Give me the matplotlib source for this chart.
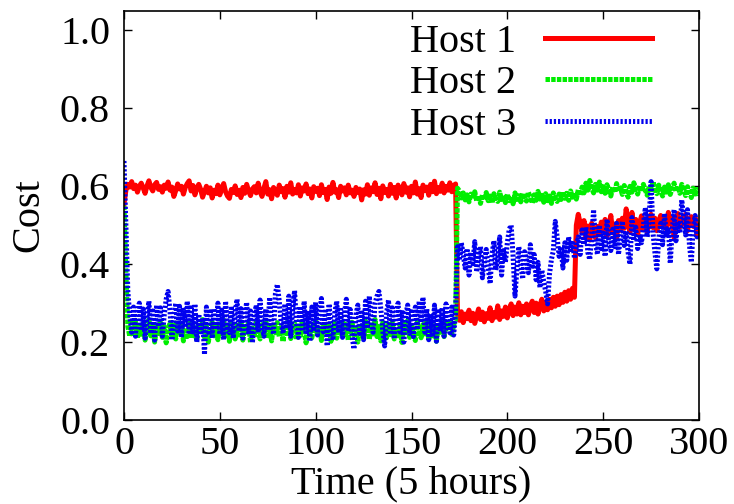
import numpy as np
import matplotlib
matplotlib.use("Agg")
import matplotlib.pyplot as plt

plt.rcParams['font.family'] = ['Liberation Serif', 'DejaVu Serif']
plt.rcParams['lines.scale_dashes'] = False

time = list(range(301))

host1 = [
    0.555, 0.590, 0.605, 0.598, 0.612, 0.594, 0.603, 0.585, 0.600, 0.608,
    0.596, 0.582, 0.601, 0.614, 0.597, 0.588, 0.604, 0.610, 0.592, 0.599,
    0.585, 0.603, 0.595, 0.611, 0.590, 0.598, 0.574, 0.589, 0.606, 0.593,
    0.600, 0.580, 0.597, 0.607, 0.614, 0.588, 0.602, 0.578, 0.595, 0.605,
    0.592, 0.572, 0.586, 0.600, 0.583, 0.596, 0.570, 0.590, 0.581, 0.603,
    0.578, 0.595, 0.607, 0.586, 0.575, 0.569, 0.592, 0.584, 0.601, 0.579,
    0.590, 0.571, 0.597, 0.582, 0.605, 0.588, 0.576, 0.593, 0.599, 0.583,
    0.608, 0.586, 0.574, 0.595, 0.612, 0.580, 0.591, 0.568, 0.597, 0.589,
    0.577, 0.603, 0.586, 0.594, 0.572, 0.600, 0.585, 0.609, 0.580, 0.592,
    0.583, 0.604, 0.575, 0.596, 0.588, 0.606, 0.581, 0.593, 0.570, 0.599,
    0.587, 0.595, 0.576, 0.604, 0.584, 0.592, 0.566, 0.598, 0.582, 0.610,
    0.585, 0.591, 0.571, 0.600, 0.588, 0.596, 0.578, 0.603, 0.583, 0.590,
    0.574, 0.597, 0.584, 0.593, 0.565, 0.591, 0.580, 0.604, 0.577, 0.596,
    0.586, 0.609, 0.579, 0.595, 0.568, 0.601, 0.584, 0.592, 0.575, 0.605,
    0.582, 0.597, 0.570, 0.603, 0.588, 0.578, 0.607, 0.585, 0.596, 0.573,
    0.600, 0.583, 0.611, 0.580, 0.594, 0.571, 0.603, 0.589, 0.598, 0.577,
    0.605, 0.586, 0.613, 0.581, 0.597, 0.587, 0.608, 0.583, 0.600, 0.590,
    0.609, 0.586, 0.602, 0.606, 0.270, 0.256, 0.278, 0.250, 0.272, 0.260,
    0.282, 0.255, 0.274, 0.248, 0.268, 0.285, 0.258, 0.277, 0.252, 0.273,
    0.261, 0.288, 0.255, 0.276, 0.264, 0.293, 0.258, 0.280, 0.266, 0.290,
    0.262, 0.284, 0.298, 0.268, 0.290, 0.272, 0.301, 0.270, 0.292, 0.276,
    0.298, 0.270, 0.292, 0.305, 0.276, 0.300, 0.272, 0.294, 0.310, 0.280,
    0.302, 0.283, 0.310, 0.288, 0.315, 0.292, 0.318, 0.296, 0.322, 0.302,
    0.328, 0.305, 0.332, 0.310, 0.338, 0.315, 0.500, 0.528, 0.505, 0.482,
    0.512, 0.470, 0.498, 0.462, 0.505, 0.480, 0.468, 0.497, 0.476, 0.508,
    0.485, 0.515, 0.472, 0.500, 0.525, 0.480, 0.503, 0.468, 0.512, 0.487,
    0.518, 0.492, 0.542, 0.505, 0.482, 0.533, 0.496, 0.515, 0.476, 0.505,
    0.524, 0.490, 0.512, 0.484, 0.507, 0.528, 0.494, 0.518, 0.486, 0.510,
    0.525, 0.498, 0.515, 0.490, 0.533, 0.503, 0.520, 0.468, 0.512, 0.530,
    0.495, 0.517, 0.503, 0.528, 0.486, 0.514, 0.522, 0.497, 0.520, 0.475,
    0.500,
]

host2 = [
    0.550, 0.380, 0.240, 0.215, 0.250, 0.222, 0.256, 0.210, 0.242, 0.220,
    0.252, 0.205, 0.235, 0.258, 0.216, 0.245, 0.200, 0.238, 0.222, 0.254,
    0.212, 0.240, 0.198, 0.232, 0.250, 0.218, 0.244, 0.208, 0.256, 0.224,
    0.246, 0.203, 0.236, 0.214, 0.252, 0.210, 0.242, 0.226, 0.204, 0.249,
    0.222, 0.258, 0.212, 0.240, 0.200, 0.234, 0.251, 0.216, 0.244, 0.206,
    0.247, 0.222, 0.257, 0.211, 0.238, 0.202, 0.248, 0.228, 0.208, 0.243,
    0.218, 0.254, 0.205, 0.240, 0.226, 0.250, 0.199, 0.236, 0.213, 0.252,
    0.230, 0.208, 0.245, 0.218, 0.256, 0.210, 0.241, 0.203, 0.248, 0.224,
    0.250, 0.214, 0.237, 0.201, 0.244, 0.222, 0.258, 0.209, 0.235, 0.248,
    0.206, 0.241, 0.217, 0.253, 0.228, 0.198, 0.246, 0.222, 0.211, 0.240,
    0.255, 0.215, 0.243, 0.204, 0.236, 0.250, 0.219, 0.242, 0.202, 0.230,
    0.249, 0.210, 0.238, 0.222, 0.257, 0.213, 0.245, 0.205, 0.233, 0.251,
    0.218, 0.241, 0.200, 0.247, 0.226, 0.210, 0.254, 0.235, 0.207, 0.244,
    0.221, 0.258, 0.214, 0.240, 0.203, 0.250, 0.228, 0.211, 0.246, 0.219,
    0.253, 0.208, 0.237, 0.216, 0.244, 0.199, 0.248, 0.224, 0.256, 0.212,
    0.241, 0.219, 0.204, 0.251, 0.232, 0.211, 0.245, 0.221, 0.254, 0.206,
    0.238, 0.216, 0.249, 0.202, 0.242, 0.225, 0.257, 0.214, 0.247, 0.230,
    0.252, 0.220, 0.244, 0.258, 0.595, 0.588, 0.570, 0.583, 0.565, 0.578,
    0.560, 0.580, 0.568, 0.586, 0.562, 0.576, 0.556, 0.579, 0.565, 0.584,
    0.563, 0.575, 0.557, 0.581, 0.568, 0.561, 0.585, 0.566, 0.577, 0.558,
    0.580, 0.563, 0.574, 0.555, 0.583, 0.566, 0.576, 0.560, 0.582, 0.568,
    0.562, 0.585, 0.570, 0.557, 0.578, 0.564, 0.587, 0.567, 0.577, 0.559,
    0.581, 0.563, 0.575, 0.556, 0.583, 0.568, 0.561, 0.580, 0.566, 0.586,
    0.569, 0.582, 0.564, 0.588, 0.572, 0.583, 0.567, 0.591, 0.576, 0.598,
    0.583, 0.608, 0.590, 0.615, 0.596, 0.583, 0.605, 0.590, 0.611, 0.586,
    0.599, 0.582, 0.604, 0.589, 0.575, 0.598, 0.584, 0.607, 0.587, 0.596,
    0.579, 0.602, 0.588, 0.572, 0.600, 0.585, 0.609, 0.591, 0.580, 0.601,
    0.586, 0.605, 0.590, 0.577, 0.599, 0.584, 0.612, 0.592, 0.581, 0.603,
    0.588, 0.575, 0.598, 0.585, 0.604, 0.579, 0.595, 0.608, 0.587, 0.600,
    0.582, 0.605, 0.591, 0.576, 0.599, 0.586, 0.571, 0.595, 0.580, 0.592,
    0.576,
]

host3 = [
    0.665, 0.500, 0.330, 0.270, 0.225, 0.290, 0.215, 0.275, 0.300, 0.230,
    0.285, 0.210, 0.262, 0.305, 0.222, 0.280, 0.205, 0.295, 0.240, 0.288,
    0.215, 0.270, 0.310, 0.330, 0.280, 0.205, 0.265, 0.300, 0.228, 0.292,
    0.212, 0.282, 0.238, 0.305, 0.220, 0.288, 0.226, 0.298, 0.200, 0.272,
    0.218, 0.262, 0.168, 0.290, 0.225, 0.278, 0.210, 0.286, 0.232, 0.300,
    0.220, 0.282, 0.206, 0.305, 0.238, 0.224, 0.292, 0.210, 0.276, 0.310,
    0.228, 0.286, 0.210, 0.270, 0.302, 0.220, 0.280, 0.198, 0.266, 0.295,
    0.225, 0.308, 0.245, 0.215, 0.285, 0.230, 0.315, 0.248, 0.220, 0.325,
    0.348, 0.305, 0.250, 0.222, 0.298, 0.235, 0.318, 0.215, 0.285, 0.332,
    0.245, 0.212, 0.292, 0.228, 0.305, 0.220, 0.280, 0.202, 0.290, 0.235,
    0.302, 0.218, 0.275, 0.312, 0.226, 0.285, 0.190, 0.298, 0.232, 0.205,
    0.276, 0.305, 0.224, 0.290, 0.212, 0.272, 0.310, 0.228, 0.284, 0.215,
    0.182, 0.270, 0.295, 0.222, 0.282, 0.206, 0.305, 0.235, 0.318, 0.248,
    0.225, 0.300, 0.318, 0.330, 0.285, 0.230, 0.190, 0.275, 0.308, 0.220,
    0.288, 0.208, 0.272, 0.300, 0.226, 0.282, 0.200, 0.270, 0.295, 0.222,
    0.278, 0.214, 0.290, 0.232, 0.305, 0.250, 0.315, 0.225, 0.285, 0.206,
    0.272, 0.220, 0.295, 0.202, 0.278, 0.228, 0.288, 0.215, 0.298, 0.240,
    0.224, 0.290, 0.218, 0.275, 0.445, 0.410, 0.455, 0.425, 0.390, 0.440,
    0.372, 0.430, 0.402, 0.458, 0.380, 0.420, 0.445, 0.365, 0.410, 0.438,
    0.395, 0.350, 0.425, 0.460, 0.385, 0.415, 0.470, 0.372, 0.435, 0.405,
    0.455, 0.490, 0.500, 0.420, 0.318, 0.388, 0.445, 0.400, 0.362, 0.432,
    0.410, 0.378, 0.450, 0.395, 0.425, 0.360, 0.405, 0.340, 0.385, 0.355,
    0.330, 0.298, 0.375, 0.412, 0.435, 0.510, 0.470, 0.420, 0.445, 0.390,
    0.455, 0.410, 0.470, 0.430, 0.460, 0.415, 0.445, 0.470, 0.425, 0.488,
    0.450, 0.495, 0.430, 0.412, 0.470, 0.540, 0.455, 0.425, 0.500, 0.440,
    0.480, 0.420, 0.515, 0.455, 0.435, 0.490, 0.445, 0.505, 0.425, 0.470,
    0.510, 0.448, 0.485, 0.430, 0.400, 0.520, 0.460, 0.495, 0.440, 0.475,
    0.455, 0.500, 0.545, 0.470, 0.520, 0.612, 0.480, 0.430, 0.388, 0.465,
    0.505, 0.450, 0.530, 0.470, 0.495, 0.402, 0.485, 0.540, 0.460, 0.510,
    0.480, 0.565, 0.520, 0.475, 0.540, 0.450, 0.405, 0.495, 0.525, 0.470,
    0.500,
]

labels = ["Host 1", "Host 2", "Host 3"]
x_ticks = [0, 50, 100, 150, 200, 250, 300]
y_ticks = [0.0, 0.2, 0.4, 0.6, 0.8, 1.0]

FS = 29

fig = plt.figure(figsize=(7.34, 5.04), dpi=100)
ax = fig.add_axes([124 / 734, 1 - 420 / 504, 575 / 734, 409 / 504])

ax.plot(time, host1, color="#ff0000", lw=3.6, label=labels[0])
ax.plot(time, host2, color="#00ee00", lw=3.6, dashes=(3.2, 0.9), label=labels[1])
ax.plot(time, host3, color="#0000ee", lw=3.6, dashes=(1.6, 1.4), label=labels[2])

ax.set_xlim(0, 300)
ax.set_ylim(0, 1.05)
ax.set_xticks(x_ticks)
ax.set_yticks(y_ticks)
ax.set_yticklabels([f"{v:.1f}" for v in y_ticks])
ax.tick_params(direction="in", length=6, width=1, top=True, right=True,
               labelsize=FS, colors="black")
ax.tick_params(axis="y", pad=10)
ax.tick_params(axis="x", pad=4)
for s in ax.spines.values():
    s.set_linewidth(1.2)

ax.set_xlabel("Time (5 hours)", fontsize=FS, labelpad=2)
ax.set_ylabel("Cost", fontsize=FS, labelpad=9)

leg = ax.legend(loc="upper right", bbox_to_anchor=(528 / 575, 1 - 13 / 409),
                frameon=False, markerfirst=False, fontsize=FS,
                handlelength=2.65, handletextpad=0.72, labelspacing=0.10,
                borderpad=0, borderaxespad=0)

fig.savefig("out.png", dpi=100)
